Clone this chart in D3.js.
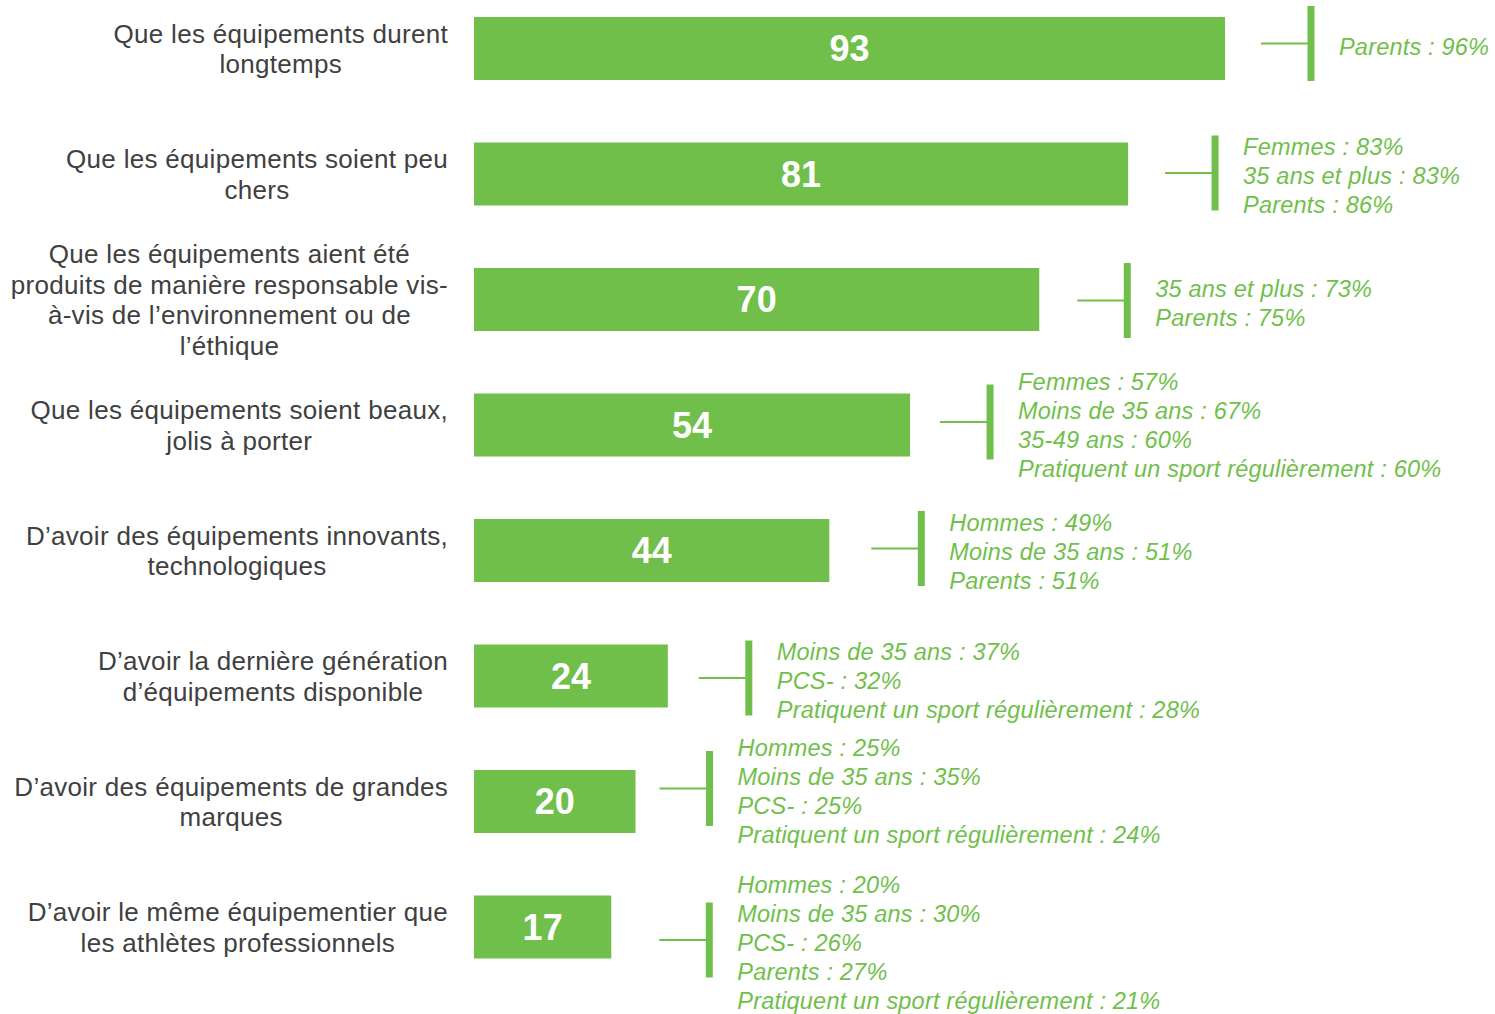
<!DOCTYPE html>
<html>
<head>
<meta charset="utf-8">
<script src="https://cdn.jsdelivr.net/npm/d3@7"></script>
<style>
  body { margin: 0; background: #fff; }
  svg { display: block; }
</style>
</head>
<body>
<div id="graph"></div>
<script>
// data
var labels = [
  ["Que les équipements durent", "longtemps"],
  ["Que les équipements soient peu", "chers"],
  ["Que les équipements aient été", "produits de manière responsable vis-", "à-vis de l’environnement ou de", "l’éthique"],
  ["Que les équipements soient beaux,", "jolis à porter"],
  ["D’avoir des équipements innovants,", "technologiques"],
  ["D’avoir la dernière génération", "d’équipements disponible"],
  ["D’avoir des équipements de grandes", "marques"],
  ["D’avoir le même équipementier que", "les athlètes professionnels"]
];
var values = [93, 81, 70, 54, 44, 24, 20, 17];
var notes = [
  ["Parents : 96%"],
  ["Femmes : 83%", "35 ans et plus : 83%", "Parents : 86%"],
  ["35 ans et plus : 73%", "Parents : 75%"],
  ["Femmes : 57%", "Moins de 35 ans : 67%", "35-49 ans : 60%", "Pratiquent un sport régulièrement : 60%"],
  ["Hommes : 49%", "Moins de 35 ans : 51%", "Parents : 51%"],
  ["Moins de 35 ans : 37%", "PCS- : 32%", "Pratiquent un sport régulièrement : 28%"],
  ["Hommes : 25%", "Moins de 35 ans : 35%", "PCS- : 25%", "Pratiquent un sport régulièrement : 24%"],
  ["Hommes : 20%", "Moins de 35 ans : 30%", "PCS- : 26%", "Parents : 27%", "Pratiquent un sport régulièrement : 21%"]
];

// layout tweaks for the bracket annotations (hand placed in the original)
var bracketDx = [86, 87, 88, 80, 92, 81, 74, 98];
var bracketDy = [-5, -1, 1, -3, -2, 2, -13, 13];

//measurements
var width = 1495;
var height = 1014;
var green = "#70bf4b";
var barH = 63;
var labelRight = 448;

var svg = d3.select("#graph").append("svg")
  .attr("width", width)
  .attr("height", height);

var x = d3.scaleLinear().domain([0, 93]).range([474, 1225]);
var y = d3.scalePoint().domain(d3.range(values.length)).range([48.5, 927]);

var rows = svg.selectAll(".row")
  .data(values)
  .enter().append("g")
  .attr("class", "row");

// bars
rows.append("rect")
  .attr("x", x(0))
  .attr("y", function(d, i) { return y(i) - barH / 2; })
  .attr("width", function(d) { return x(d) - x(0); })
  .attr("height", barH)
  .attr("fill", green);

// values inside bars
rows.append("text")
  .attr("x", function(d) { return (x(0) + x(d)) / 2; })
  .attr("y", function(d, i) { return y(i); })
  .attr("dy", "0.36em")
  .attr("text-anchor", "middle")
  .attr("fill", "#fff")
  .style("font-family", "'Liberation Sans', Arial, sans-serif")
  .style("font-weight", "bold")
  .style("font-size", "36px")
  .text(function(d) { return d; });

// category labels, centered block aligned on the right
var labelLine = 30.7;
labels.forEach(function(lines, i) {
  var g = svg.append("text")
    .attr("fill", "#404040")
    .attr("text-anchor", "middle")
    .style("font-family", "'Liberation Sans', Arial, sans-serif")
    .style("font-size", "26px")
    .style("letter-spacing", "0.3px");
  var spans = g.selectAll("tspan")
    .data(lines)
    .enter().append("tspan")
    .attr("y", function(d, k) { return y(i) + (k - (lines.length - 1) / 2) * labelLine; })
    .attr("dy", "0.36em")
    .text(function(d) { return d; });
  var maxW = 0;
  spans.each(function() { maxW = Math.max(maxW, this.getComputedTextLength()); });
  spans.attr("x", labelRight - maxW / 2);
});

// brackets and notes
var noteLine = 29;
values.forEach(function(v, i) {
  var bx = x(v) + bracketDx[i];
  var cy = y(i) + bracketDy[i];
  svg.append("line")
    .attr("x1", bx - 50).attr("x2", bx)
    .attr("y1", cy).attr("y2", cy)
    .attr("stroke", green)
    .attr("stroke-width", 2);
  svg.append("line")
    .attr("x1", bx).attr("x2", bx)
    .attr("y1", cy - 37.5).attr("y2", cy + 37.5)
    .attr("stroke", green)
    .attr("stroke-width", 7);
  svg.append("text")
    .attr("fill", green)
    .style("font-family", "'Liberation Sans', Arial, sans-serif")
    .style("font-style", "italic")
    .style("font-size", "23.5px")
    .style("letter-spacing", "0.2px")
    .selectAll("tspan")
    .data(notes[i])
    .enter().append("tspan")
    .attr("x", bx + 28)
    .attr("y", function(d, k) { return cy + 3 + (k - (notes[i].length - 1) / 2) * noteLine; })
    .attr("dy", "0.36em")
    .text(function(d) { return d; });
});
</script>
</body>
</html>
